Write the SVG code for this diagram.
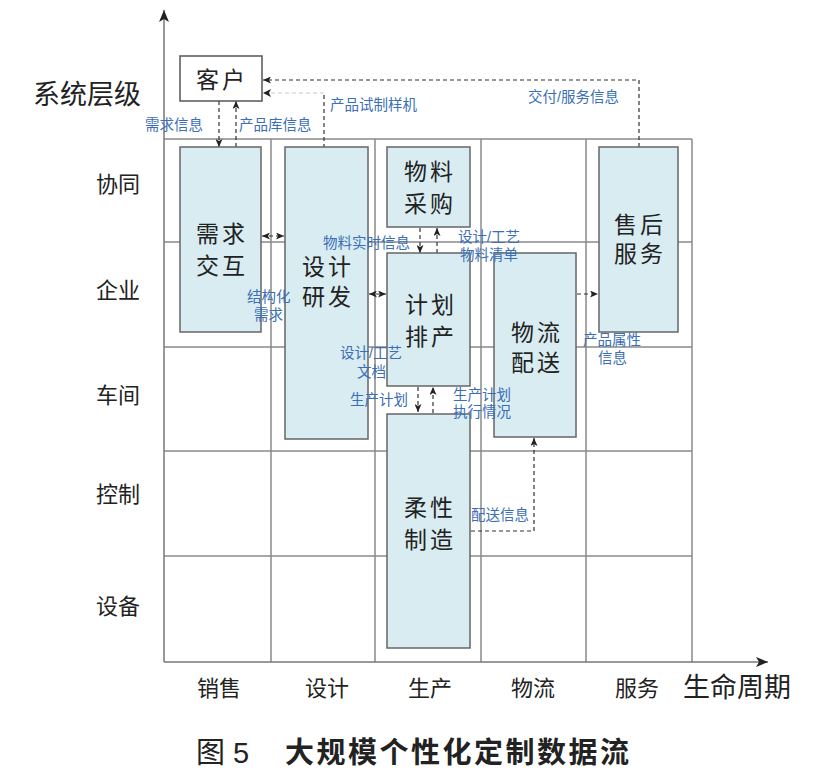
<svg xmlns="http://www.w3.org/2000/svg" width="832" height="784" viewBox="0 0 832 784">
<defs>
<marker id="ah" viewBox="0 0 8 7" refX="8" refY="3.5" markerWidth="8" markerHeight="7" markerUnits="userSpaceOnUse" orient="auto-start-reverse">
<path d="M0,0 L8,3.5 L0,7 L2,3.5 z" fill="#222"/>
</marker>
<marker id="axah" viewBox="0 0 12 10" refX="12" refY="5" markerWidth="12" markerHeight="10" markerUnits="userSpaceOnUse" orient="auto">
<path d="M0,0 L12,5 L0,10 L3,5 z" fill="#222"/>
</marker>
</defs>
<style>
.grid{stroke:#8a8a8a;stroke-width:1.5;fill:none}
.axis{stroke:#777;stroke-width:1.5;fill:none}
.box{fill:#d8ecf1;stroke:#666;stroke-width:1.5}
.wbox{fill:#fff;stroke:#555;stroke-width:1.5}
.dash{stroke:#333;stroke-width:1.2;stroke-dasharray:4 3;fill:none}
.faint{stroke:#c8c8c8;stroke-width:1;stroke-dasharray:4 3;fill:none}
text{font-family:"Liberation Sans","Noto Sans CJK SC",sans-serif}
.nt{font-size:23px;fill:#222;text-anchor:middle;letter-spacing:3px}
.lbl{font-size:14.5px;fill:#3a6fb8}
.ax{font-size:22px;fill:#222;text-anchor:middle}
.axt{font-size:27px;fill:#222;text-anchor:middle}
.title{font-size:29px;fill:#222}
</style>
<rect width="832" height="784" fill="#fff"/>
<g id="grid">
<path class="grid" d="M164,139 H692 M164,242 H692 M164,347 H692 M164,451 H692 M164,556 H692 M271,139 V662 M375,139 V662 M481,139 V662 M586,139 V662 M692,139 V662"/>
</g>
<g id="axes">
<line class="axis" x1="164" y1="662" x2="164" y2="10" marker-end="url(#axah)"/>
<line class="axis" x1="164" y1="662" x2="768" y2="662" marker-end="url(#axah)"/>
</g>
<g id="axis-labels">
<text class="axt" x="87" y="104">系统层级</text>
<text class="ax" x="118" y="192">协同</text>
<text class="ax" x="118" y="298">企业</text>
<text class="ax" x="118" y="403">车间</text>
<text class="ax" x="118" y="502">控制</text>
<text class="ax" x="118" y="614">设备</text>
<text class="ax" x="219" y="696">销售</text>
<text class="ax" x="327" y="696">设计</text>
<text class="ax" x="430" y="696">生产</text>
<text class="ax" x="533" y="696">物流</text>
<text class="ax" x="637" y="696">服务</text>
<text class="axt" x="737" y="697">生命周期</text>
</g>
<g id="connectors">
<line class="dash" x1="219" y1="101" x2="219" y2="147" marker-end="url(#ah)"/>
<line class="dash" x1="236" y1="147" x2="236" y2="101" marker-end="url(#ah)"/>
<path class="dash" d="M324,148 V93"/>
<path class="faint" d="M324,93 H264"/>
<path d="M271,89 L263,93 L271,97 L269,93 z" fill="#222"/>
<path class="dash" d="M639,147 V80 H263" marker-end="url(#ah)"/>
<line class="dash" x1="262" y1="236" x2="284" y2="236" marker-start="url(#ah)" marker-end="url(#ah)"/>
<line class="dash" x1="369" y1="294" x2="386" y2="294" marker-start="url(#ah)" marker-end="url(#ah)"/>
<line class="dash" x1="420" y1="228" x2="420" y2="253" marker-end="url(#ah)"/>
<line class="dash" x1="437" y1="253" x2="437" y2="228" marker-end="url(#ah)"/>
<line class="dash" x1="418" y1="387" x2="418" y2="412" marker-end="url(#ah)"/>
<line class="dash" x1="433" y1="413" x2="433" y2="387" marker-end="url(#ah)"/>
<line class="dash" x1="577" y1="294" x2="598" y2="294" marker-end="url(#ah)"/>
<path class="dash" d="M471,531 H534 V438" marker-end="url(#ah)"/>
</g>
<g id="node-kehu">
<rect class="wbox" x="180" y="56" width="82" height="45"/>
<text class="nt" x="222" y="88">客户</text>
</g>
<g id="node-xuqiu">
<rect class="box" x="180" y="147" width="81" height="185"/>
<text class="nt" x="222" y="242"><tspan x="222">需求</tspan><tspan x="222" dy="32">交互</tspan></text>
</g>
<g id="node-sheji">
<rect class="box" x="285" y="147" width="83" height="292"/>
<text class="nt" x="328" y="275"><tspan x="328">设计</tspan><tspan x="328" dy="30">研发</tspan></text>
</g>
<g id="node-caigou">
<rect class="box" x="387" y="147" width="83" height="80"/>
<text class="nt" x="430" y="180"><tspan x="430">物料</tspan><tspan x="430" dy="32">采购</tspan></text>
</g>
<g id="node-paichan">
<rect class="box" x="387" y="253" width="83" height="133"/>
<text class="nt" x="431" y="313"><tspan x="431">计划</tspan><tspan x="431" dy="32">排产</tspan></text>
</g>
<g id="node-wuliu">
<rect class="box" x="494" y="253" width="82" height="184"/>
<text class="nt" x="537" y="341"><tspan x="537">物流</tspan><tspan x="537" dy="30">配送</tspan></text>
</g>
<g id="node-shouhou">
<rect class="box" x="599" y="147" width="79" height="185"/>
<text class="nt" x="640" y="233"><tspan x="640">售后</tspan><tspan x="640" dy="29">服务</tspan></text>
</g>
<g id="node-zhizao">
<rect class="box" x="387" y="414" width="83" height="234"/>
<text class="nt" x="430" y="516"><tspan x="430">柔性</tspan><tspan x="430" dy="32">制造</tspan></text>
</g>
<g id="labels">
<text class="lbl" x="145" y="130">需求信息</text>
<text class="lbl" x="239" y="130">产品库信息</text>
<text class="lbl" x="330" y="110">产品试制样机</text>
<text class="lbl" x="528" y="102">交付/服务信息</text>
<text class="lbl" x="323" y="248">物料实时信息</text>
<text class="lbl" x="458" y="242"><tspan x="458">设计/工艺</tspan><tspan x="460" dy="18">物料清单</tspan></text>
<text class="lbl" x="247" y="302"><tspan x="247">结构化</tspan><tspan x="254" dy="18">需求</tspan></text>
<text class="lbl" x="340" y="358"><tspan x="340">设计/工艺</tspan><tspan x="357" dy="19">文档</tspan></text>
<text class="lbl" x="350" y="405">生产计划</text>
<text class="lbl" x="453" y="400"><tspan x="453">生产计划</tspan><tspan x="453" dy="17">执行情况</tspan></text>
<text class="lbl" x="583" y="345"><tspan x="583">产品属性</tspan><tspan x="598" dy="18">信息</tspan></text>
<text class="lbl" x="471" y="520">配送信息</text>
</g>
<g id="caption">
<text class="title" x="196" y="763">图 5</text>
<text class="title" x="285" y="763" font-weight="bold" letter-spacing="2.5">大规模个性化定制数据流</text>
</g>
</svg>
